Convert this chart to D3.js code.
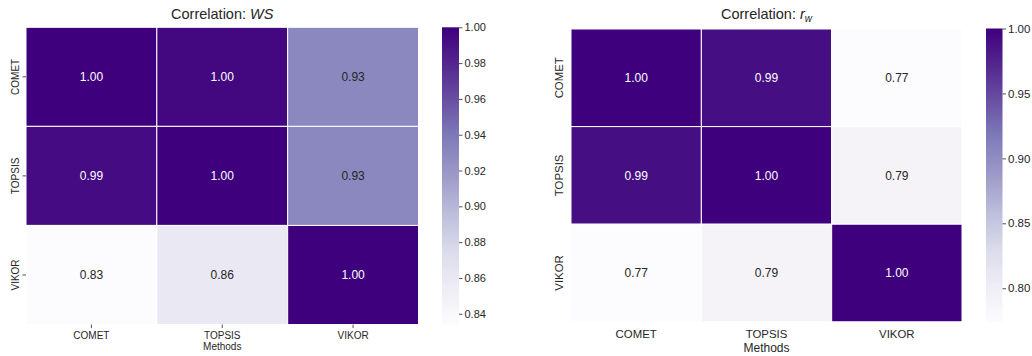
<!DOCTYPE html>
<html>
<head>
<meta charset="utf-8">
<script src="https://cdn.jsdelivr.net/npm/d3@7"></script>
<style>
  html, body { margin: 0; padding: 0; background: #ffffff; }
  svg { display: block; font-family: "Liberation Sans", Arial, sans-serif; }
</style>
</head>
<body>
<svg id="chart" width="1032" height="356"></svg>
<script>
// Methods compared in both correlation matrices
const methods = ["COMET", "TOPSIS", "VIKOR"];

// WS similarity coefficient (rows = reference method, cols = compared method)
const wsComet  = [1.00, 0.996, 0.93];
const wsTopsis = [0.994, 1.00, 0.93];
const wsVikor  = [0.834, 0.86, 1.00];

// Weighted Spearman r_w correlation
const rwComet  = [1.00, 0.99, 0.774];
const rwTopsis = [0.99, 1.00, 0.79];
const rwVikor  = [0.774, 0.79, 1.00];

// Colour bar tick labels
const wsTicks = [0.84, 0.86, 0.88, 0.90, 0.92, 0.94, 0.96, 0.98, 1.00];
const rwTicks = [0.80, 0.85, 0.90, 0.95, 1.00];

// ColorBrewer "Purples" 9-class, linearly interpolated
const purples = ["#fcfbfd", "#efedf5", "#dadaeb", "#bcbddc", "#9e9ac8",
                 "#807dba", "#6a51a3", "#54278f", "#3f007d"];

const svg = d3.select("#chart");
const textDark = "#262626";

function drawHeatmap(opts) {
  const { rows, ticks, box, bar, titleParts, tickFont, axisFont, showTicks,
          titleY, xLabelY, methodsY, yLabelX, barFont } = opts;
  const flat = rows.flat();
  const vmin = d3.min(flat), vmax = d3.max(flat);
  const color = d3.scaleLinear()
    .domain(d3.range(purples.length).map(i => vmin + (vmax - vmin) * i / (purples.length - 1)))
    .range(purples)
    .interpolate(d3.interpolateRgb);

  const x = d3.scaleBand().domain(methods).range([box.x0, box.x1]);
  const y = d3.scaleBand().domain(methods).range([box.y0, box.y1]);

  const g = svg.append("g");
  const cells = rows.flatMap((r, i) => r.map((v, j) => ({ row: methods[i], col: methods[j], v })));

  g.selectAll("rect.cell").data(cells).join("rect")
    .attr("class", "cell")
    .attr("x", d => x(d.col))
    .attr("y", d => y(d.row))
    .attr("width", x.bandwidth())
    .attr("height", y.bandwidth())
    .attr("fill", d => color(d.v))
    .attr("stroke", "#ffffff")
    .attr("stroke-width", 1);

  g.selectAll("text.annot").data(cells).join("text")
    .attr("class", "annot")
    .attr("x", d => x(d.col) + x.bandwidth() / 2)
    .attr("y", d => y(d.row) + y.bandwidth() / 2)
    .attr("dy", "0.35em")
    .attr("text-anchor", "middle")
    .attr("font-size", 12)
    .attr("fill", d => {
      const c = d3.rgb(color(d.v));
      const lum = (0.2126 * c.r + 0.7152 * c.g + 0.0722 * c.b) / 255;
      return lum < 0.408 ? "#ffffff" : textDark;
    })
    .text(d => d3.format(".2f")(d.v));

  // x tick labels
  methods.forEach(m => {
    const cx = x(m) + x.bandwidth() / 2;
    if (showTicks) {
      g.append("line").attr("x1", cx).attr("x2", cx)
        .attr("y1", box.y1).attr("y2", box.y1 + 3.5)
        .attr("stroke", textDark).attr("stroke-width", 0.8);
    }
    g.append("text").attr("x", cx).attr("y", xLabelY)
      .attr("text-anchor", "middle").attr("font-size", tickFont)
      .attr("fill", textDark).text(m);
  });
  g.append("text").attr("x", (box.x0 + box.x1) / 2).attr("y", methodsY)
    .attr("text-anchor", "middle").attr("font-size", axisFont)
    .attr("fill", textDark).text("Methods");

  // y tick labels (rotated)
  methods.forEach(m => {
    const cy = y(m) + y.bandwidth() / 2;
    if (showTicks) {
      g.append("line").attr("x1", box.x0 - 3.5).attr("x2", box.x0)
        .attr("y1", cy).attr("y2", cy)
        .attr("stroke", textDark).attr("stroke-width", 0.8);
    }
    g.append("text")
      .attr("transform", `translate(${yLabelX},${cy}) rotate(-90)`)
      .attr("text-anchor", "middle").attr("font-size", tickFont)
      .attr("fill", textDark).text(m);
  });

  // title
  const t = g.append("text").attr("x", (box.x0 + box.x1) / 2).attr("y", titleY)
    .attr("text-anchor", "middle").attr("font-size", 14.5).attr("fill", textDark);
  titleParts.forEach(p => {
    const ts = t.append("tspan").text(p.text);
    if (p.italic) ts.attr("font-style", "italic");
    if (p.sub) ts.attr("font-size", 10).attr("dy", 3);
  });

  // colour bar
  const gradId = "grad" + Math.round(bar.x);
  const grad = svg.append("defs").append("linearGradient")
    .attr("id", gradId).attr("x1", 0).attr("y1", 1).attr("x2", 0).attr("y2", 0);
  d3.range(0, 1.0001, 0.02).forEach(f => {
    grad.append("stop").attr("offset", f).attr("stop-color", color(vmin + f * (vmax - vmin)));
  });
  g.append("rect").attr("x", bar.x).attr("y", bar.y0)
    .attr("width", bar.w).attr("height", bar.y1 - bar.y0)
    .attr("fill", `url(#${gradId})`);

  const cy = d3.scaleLinear().domain([vmin, vmax]).range([bar.y1, bar.y0]);
  const axis = d3.axisRight(cy).tickValues(ticks).tickSize(3.5).tickPadding(2)
    .tickFormat(d3.format(".2f"));
  const ag = g.append("g").attr("transform", `translate(${bar.x + bar.w},0)`).call(axis);
  ag.select(".domain").remove();
  ag.selectAll("line").attr("stroke", textDark).attr("stroke-width", 0.8);
  ag.selectAll("text").attr("font-size", barFont).attr("fill", textDark)
    .attr("font-family", "Liberation Sans, Arial, sans-serif");
}

drawHeatmap({
  rows: [wsComet, wsTopsis, wsVikor],
  ticks: wsTicks,
  box: { x0: 26, x1: 418.5, y0: 27.3, y1: 324.5 },
  bar: { x: 442, w: 17, y0: 27.3, y1: 324.5 },
  titleParts: [{ text: "Correlation: " }, { text: "WS", italic: true }],
  tickFont: 10, axisFont: 10, showTicks: true,
  titleY: 18.5, xLabelY: 339, methodsY: 350, yLabelX: 18.5, barFont: 11
});

drawHeatmap({
  rows: [rwComet, rwTopsis, rwVikor],
  ticks: rwTicks,
  box: { x0: 571, x1: 962, y0: 29, y1: 321.8 },
  bar: { x: 986, w: 16.5, y0: 28.5, y1: 322 },
  titleParts: [{ text: "Correlation: " }, { text: "r", italic: true }, { text: "w", italic: true, sub: true }],
  tickFont: 11.4, axisFont: 12, showTicks: false,
  titleY: 19, xLabelY: 337.5, methodsY: 352, yLabelX: 562.5, barFont: 11.5
});
</script>
</body>
</html>
